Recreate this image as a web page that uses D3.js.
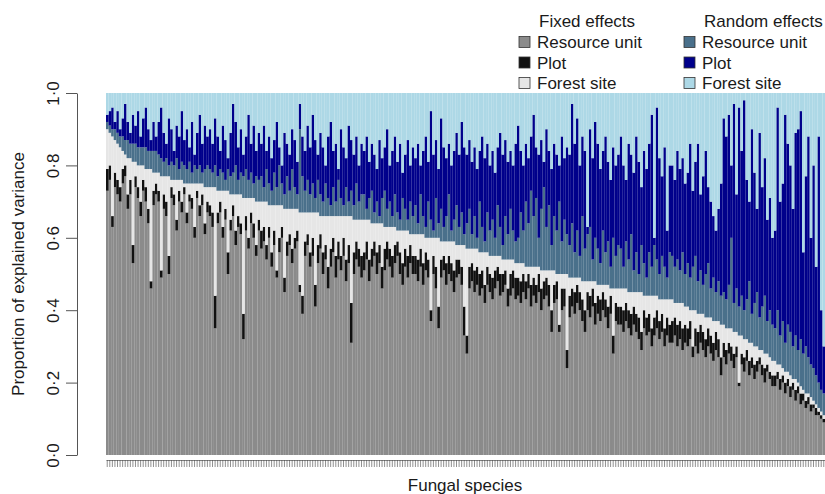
<!DOCTYPE html>
<html>
<head>
<meta charset="utf-8">
<script src="https://cdn.jsdelivr.net/npm/d3@7"></script>
<style>
  body { margin: 0; background: #fff; }
  svg text { font-family: "Liberation Sans", Arial, sans-serif; fill: #1a1a1a; }
</style>
</head>
<body>
<div id="chart"></div>
<script>
// upper edge (percent) of each stacked layer, one value per fungal species
const topResourceFixed = [
  73, 76, 63, 74, 72, 70, 75, 77, 68, 72, 53, 74, 71, 66, 73, 70, 64, 46, 69, 72,
  70, 49, 68, 66, 50, 71, 69, 62, 70, 67, 72, 64, 70, 68, 60, 71, 66, 69, 61, 67,
  66, 63, 35, 64, 67, 60, 65, 50, 62, 66, 58, 63, 61, 32, 62, 57, 64, 60, 55, 62,
  57, 59, 54, 60, 52, 58, 49, 56, 60, 45, 55, 58, 53, 57, 59, 45, 39, 55, 58, 52,
  55, 41, 53, 57, 50, 54, 46, 52, 56, 49, 54, 51, 55, 48, 53, 31, 50, 54, 52, 49,
  51, 54, 48, 52, 55, 50, 53, 46, 51, 54, 52, 49, 53, 55, 50, 47, 52, 49, 53, 50,
  50, 48, 52, 47, 51, 49, 37, 50, 46, 35, 49, 51, 47, 50, 48, 45, 49, 50, 47, 33,
  28, 46, 48, 45, 47, 44, 46, 42, 47, 45, 43, 46, 48, 44, 45, 47, 41, 44, 46, 43,
  44, 42, 45, 43, 46, 41, 44, 42, 45, 40, 43, 44, 41, 34, 42, 43, 34, 40, 41, 24,
  38, 41, 39, 42, 40, 37, 34, 40, 38, 41, 36, 39, 37, 40, 38, 35, 39, 28, 37, 36,
  36, 34, 37, 35, 33, 36, 34, 32, 29, 35, 33, 34, 30, 33, 35, 32, 34, 30, 33, 31,
  31, 33, 30, 32, 29, 31, 30, 32, 27, 30, 28, 31, 29, 27, 30, 28, 26, 29, 27, 22,
  27, 25, 28, 26, 24, 27, 19, 25, 23, 26, 22, 24, 21, 23, 25, 22, 20, 23, 21, 19,
  19, 21, 18, 20, 17, 19, 16, 18, 15, 17, 14, 15, 13, 14, 12, 13, 11, 11, 10, 9
];
const topPlotFixed = [
  79, 80, 66, 78, 76, 74, 79, 80, 72, 76, 58, 77, 74, 70, 76, 74, 68, 48, 73, 75,
  73, 51, 72, 70, 55, 74, 72, 65, 73, 70, 74, 67, 72, 71, 63, 73, 69, 72, 64, 70,
  69, 67, 44, 67, 70, 63, 68, 56, 65, 69, 62, 66, 64, 39, 66, 60, 67, 64, 58, 65,
  62, 63, 58, 63, 56, 62, 51, 60, 63, 49, 59, 61, 57, 60, 62, 47, 44, 59, 61, 56,
  60, 47, 58, 61, 56, 58, 52, 57, 60, 55, 59, 55, 60, 54, 58, 42, 56, 59, 57, 55,
  56, 59, 54, 57, 59, 56, 58, 52, 57, 59, 57, 55, 58, 59, 56, 53, 57, 55, 58, 55,
  55, 54, 57, 53, 56, 54, 40, 55, 52, 41, 54, 55, 53, 55, 53, 51, 54, 54, 52, 41,
  33, 52, 53, 51, 52, 50, 51, 47, 52, 50, 49, 51, 52, 50, 50, 51, 46, 50, 51, 49,
  49, 48, 50, 48, 50, 47, 49, 47, 50, 46, 48, 49, 47, 40, 47, 48, 36, 46, 46, 29,
  44, 46, 45, 47, 45, 43, 40, 45, 44, 46, 42, 44, 43, 45, 43, 41, 44, 33, 42, 41,
  41, 40, 42, 40, 39, 41, 39, 38, 34, 40, 38, 39, 35, 38, 40, 37, 39, 35, 38, 36,
  37, 38, 36, 37, 35, 36, 35, 37, 30, 35, 34, 36, 34, 32, 35, 33, 31, 34, 32, 27,
  31, 29, 31, 30, 28, 30, 20, 28, 27, 29, 26, 27, 25, 26, 27, 25, 24, 25, 23, 22,
  22, 23, 21, 22, 20, 21, 19, 20, 18, 19, 17, 17, 15, 16, 14, 14, 13, 12, 11, 10
];
const topForestFixed = [
  90, 89, 88, 87, 86, 85, 84, 83, 82, 82, 81, 81, 80, 80, 80, 79, 79, 79, 78, 78,
  78, 77, 77, 77, 77, 76, 76, 76, 76, 76, 75, 75, 75, 75, 75, 75, 75, 75, 74, 74,
  74, 74, 74, 73, 73, 73, 73, 73, 72, 72, 72, 72, 72, 71, 71, 71, 71, 71, 70, 70,
  70, 70, 70, 69, 69, 69, 69, 69, 69, 68, 68, 68, 68, 68, 68, 67, 67, 67, 67, 67,
  67, 67, 67, 66, 66, 66, 66, 66, 66, 66, 66, 66, 66, 66, 66, 66, 65, 65, 65, 65,
  65, 65, 65, 64, 64, 64, 64, 64, 63, 63, 63, 63, 63, 62, 62, 62, 62, 62, 61, 61,
  61, 61, 61, 61, 60, 60, 60, 60, 60, 60, 59, 59, 59, 59, 59, 59, 58, 58, 58, 58,
  57, 57, 57, 57, 57, 56, 56, 56, 56, 55, 55, 55, 55, 55, 54, 54, 54, 54, 54, 53,
  53, 53, 53, 52, 52, 52, 52, 52, 52, 51, 51, 51, 51, 51, 51, 50, 50, 50, 50, 50,
  49, 49, 49, 49, 49, 48, 48, 48, 48, 48, 48, 47, 47, 47, 47, 47, 46, 46, 46, 46,
  46, 46, 46, 45, 45, 45, 45, 45, 45, 44, 44, 44, 44, 44, 44, 43, 43, 43, 43, 43,
  43, 42, 42, 42, 42, 41, 41, 40, 40, 40, 39, 39, 39, 38, 38, 38, 37, 37, 37, 36,
  36, 35, 35, 35, 34, 34, 33, 33, 32, 32, 31, 31, 30, 30, 29, 29, 28, 28, 27, 26,
  26, 25, 25, 24, 23, 23, 22, 21, 21, 20, 19, 18, 17, 17, 16, 15, 14, 13, 12, 11
];
const topResourceRandom = [
  92, 91, 90, 90, 89, 88, 88, 87, 87, 86, 86, 86, 85, 85, 85, 85, 84, 84, 84, 84,
  83, 82, 81, 82, 80, 81, 80, 82, 79, 81, 80, 79, 81, 78, 80, 79, 80, 78, 79, 80,
  79, 78, 80, 77, 79, 78, 76, 79, 77, 78, 80, 76, 78, 77, 79, 76, 78, 75, 77, 76,
  77, 74, 79, 75, 73, 78, 74, 80, 75, 72, 77, 73, 79, 74, 72, 90, 77, 73, 76, 72,
  75, 71, 76, 72, 70, 75, 71, 69, 74, 70, 76, 71, 69, 74, 70, 73, 69, 75, 70, 72,
  72, 68, 71, 73, 67, 70, 66, 71, 73, 68, 70, 66, 72, 67, 65, 71, 68, 65, 70, 66,
  69, 64, 72, 66, 63, 70, 65, 62, 71, 64, 68, 63, 66, 72, 62, 65, 69, 63, 67, 61,
  64, 68, 61, 66, 60, 70, 63, 59, 67, 62, 65, 60, 69, 63, 58, 66, 61, 68, 62, 59,
  60, 67, 62, 70, 64, 73, 66, 71, 60, 68, 74, 63, 69, 58, 66, 62, 70, 59, 65, 61,
  58, 64, 56, 62, 55, 66, 57, 61, 63, 54, 60, 57, 53, 62, 56, 59, 52, 60, 55, 58,
  57, 52, 59, 54, 61, 51, 56, 50, 58, 53, 49, 56, 52, 58, 54, 50, 55, 52, 49, 56,
  55, 52, 54, 51, 56, 50, 53, 49, 52, 55, 48, 51, 47, 50, 53, 46, 49, 45, 48, 44,
  45, 43, 47, 60, 42, 46, 41, 44, 40, 43, 48, 39, 42, 45, 38, 41, 44, 37, 40, 36,
  35, 40, 33, 37, 31, 36, 34, 30, 33, 29, 32, 28, 30, 27, 25, 24, 22, 20, 18, 17
];
const topPlotRandom = [
  94, 95, 96, 92, 95, 90, 93, 97, 92, 89, 94, 91, 95, 88, 93, 96, 90, 87, 92, 88,
  92, 96, 89, 86, 93, 90, 84, 91, 88, 95, 87, 90, 85, 92, 83, 89, 94, 86, 91, 88,
  90, 86, 93, 88, 84, 91, 87, 82, 89, 97, 92, 85, 90, 83, 88, 94, 86, 91, 84, 89,
  86, 91, 84, 88, 82, 87, 92, 85, 80, 89, 86, 83, 90, 87, 81, 97, 88, 84, 91, 85,
  94, 87, 83, 89, 85, 80, 88, 92, 84, 86, 79, 90, 85, 82, 91, 87, 83, 88, 80, 86,
  84, 88, 81, 86, 83, 79, 87, 82, 85, 90, 80, 84, 88, 81, 86, 78, 83, 87, 80, 85,
  82, 86, 80, 84, 88, 81, 95, 83, 87, 79, 93, 85, 82, 86, 80, 84, 89, 83, 92, 85,
  83, 87, 81, 85, 79, 84, 88, 82, 86, 80, 84, 78, 85, 89, 83, 87, 81, 84, 80, 86,
  91, 84, 80, 86, 82, 88, 94, 85, 83, 87, 81, 90, 84, 79, 86, 83, 80, 88, 82, 85,
  83, 97, 86, 93, 80, 88, 84, 63, 90, 82, 92, 86, 79, 84, 88, 81, 76, 85, 80, 83,
  88, 80, 76, 86, 83, 78, 88, 81, 74, 84, 79, 86, 94, 60, 96, 82, 77, 85, 62, 80,
  80, 76, 84, 79, 82, 75, 78, 86, 73, 81, 86, 72, 77, 84, 74, 70, 66, 62, 68, 75,
  93, 88, 94, 80, 97, 72, 96, 84, 98, 76, 70, 90, 78, 68, 89, 74, 82, 65, 71, 60,
  62, 96, 70, 75, 94, 86, 80, 68, 89, 90, 95, 56, 77, 88, 60, 80, 52, 88, 40, 30
];

const keys = ["resFixed", "plotFixed", "forestFixed", "resRandom", "plotRandom", "forestRandom"];
const colors = ["#8b8b8b", "#111111", "#e6e6e6", "#4a708b", "#00008b", "#add8e6"];
const yTicks = [0, 0.2, 0.4, 0.6, 0.8, 1.0];

const legendFixed = ["Resource unit", "Plot", "Forest site"];
const legendRandom = ["Resource unit", "Plot", "Forest site"];

// component proportions from the layer edges
const table = topResourceFixed.map((g, i) => ({
  id: i,
  resFixed: g / 100,
  plotFixed: (topPlotFixed[i] - g) / 100,
  forestFixed: (topForestFixed[i] - topPlotFixed[i]) / 100,
  resRandom: (topResourceRandom[i] - topForestFixed[i]) / 100,
  plotRandom: (topPlotRandom[i] - topResourceRandom[i]) / 100,
  forestRandom: (100 - topPlotRandom[i]) / 100
}));

const width = 825, height = 494;
const margin = { left: 106, right: 825, top: 93, bottom: 455 };

const svg = d3.select("#chart").append("svg")
  .attr("width", width)
  .attr("height", height);

const x = d3.scaleBand().domain(table.map(d => d.id)).range([margin.left, margin.right]).paddingInner(0.04);
const y = d3.scaleLinear().domain([0, 1]).range([margin.bottom, margin.top]);
const color = d3.scaleOrdinal().domain(keys).range(colors);

const series = d3.stack().keys(keys)(table);

svg.append("g")
  .selectAll("g")
  .data(series)
  .join("g")
    .attr("fill", d => color(d.key))
  .selectAll("rect")
  .data(d => d)
  .join("rect")
    .attr("x", d => x(d.data.id))
    .attr("y", d => y(d[1]))
    .attr("width", x.bandwidth() + 0.15)
    .attr("height", d => Math.max(0, y(d[0]) - y(d[1])));

// y axis
const yAxis = svg.append("g")
  .attr("transform", `translate(77,0)`)
  .call(d3.axisLeft(y).tickValues(yTicks).tickSize(11).tickSizeOuter(0)
    .tickFormat(d => d3.format(".1f")(d).replace(".", "·")));
yAxis.select(".domain").attr("stroke", "#555");
yAxis.selectAll(".tick line").attr("stroke", "#555");
yAxis.selectAll(".tick text")
  .attr("x", 0).attr("dy", 0)
  .attr("transform", "translate(-18,0) rotate(-90)")
  .attr("text-anchor", "middle")
  .style("font-size", "17px")
  .style("font-family", "'Liberation Sans', Arial, sans-serif")
  .attr("fill", "#1a1a1a");

// x axis: one tick per species, no labels
const xAxis = svg.append("g")
  .attr("transform", `translate(0,460)`)
  .call(d3.axisBottom(x).tickSize(7).tickSizeOuter(0).tickFormat(""));
xAxis.select(".domain").attr("stroke", "#666").attr("stroke-width", 0.8);
xAxis.selectAll(".tick line").attr("stroke", "#444").attr("stroke-width", 0.6);

svg.append("text")
  .attr("x", 465).attr("y", 491)
  .attr("text-anchor", "middle")
  .style("font-size", "17px")
  .text("Fungal species");

svg.append("text")
  .attr("transform", `translate(24,274) rotate(-90)`)
  .attr("text-anchor", "middle")
  .style("font-size", "17px")
  .text("Proportion of explained variance");

// legend
function legend(title, labels, cols, sx) {
  const g = svg.append("g");
  g.append("text").attr("x", sx + 20).attr("y", 27).style("font-size", "17px").text(title);
  labels.forEach((lab, i) => {
    const cy = 42 + i * 20.5;
    g.append("rect")
      .attr("x", sx).attr("y", cy - 5.5)
      .attr("width", 11).attr("height", 11)
      .attr("fill", cols[i]).attr("stroke", "#333").attr("stroke-width", 0.8);
    g.append("text").attr("x", sx + 18).attr("y", cy + 6).style("font-size", "17px").text(lab);
  });
}
legend("Fixed effects", legendFixed, colors.slice(0, 3), 519);
legend("Random effects", legendRandom, colors.slice(3), 684);
</script>
</body>
</html>
